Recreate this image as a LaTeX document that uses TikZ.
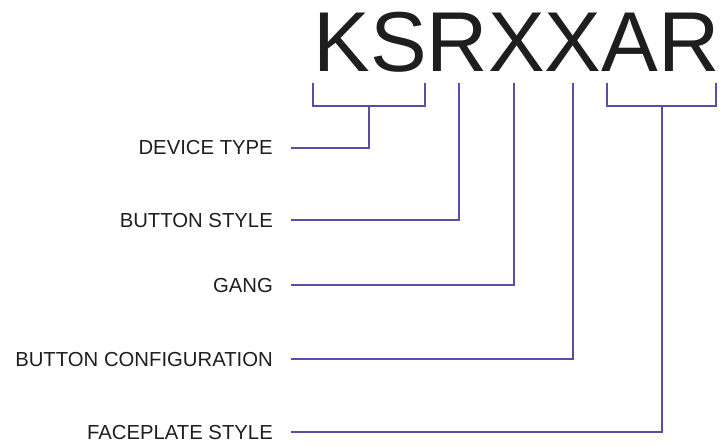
\documentclass[tikz,border=0pt]{standalone}
\usepackage{fontspec}
\setmainfont{Liberation Sans}
\definecolor{conncol}{HTML}{5E4BA6}
\definecolor{txtcol}{HTML}{1E1E1E}
\begin{document}
\begin{tikzpicture}[x=1pt,y=1pt,
  conn/.style={draw=conncol,line width=1.6pt},
  lbl/.style={anchor=base east,inner sep=0pt,text=txtcol,font=\fontsize{20.3}{23}\selectfont},
  code/.style={anchor=base,inner sep=0pt,text=txtcol,font=\fontsize{85}{90}\selectfont}]
\useasboundingbox (0,0) rectangle (720,445);
\node[code] (code) at (516.5,373) {KSRXXAR};
% labels
\node[lbl] (l1) at (273,290.5) {DEVICE TYPE};
\node[lbl] (l2) at (273,218) {BUTTON STYLE};
\node[lbl] (l3) at (273,153) {GANG};
\node[lbl] (l4) at (273,79) {BUTTON CONFIGURATION};
\node[lbl] (l5) at (273,6) {FACEPLATE STYLE};
% line starts
\coordinate (s1) at (291,297);
\coordinate (s2) at (291,225);
\coordinate (s3) at (291,160);
\coordinate (s4) at (291,86);
\coordinate (s5) at (291,13);
% bracket / tick tops
\coordinate (b1) at (369,339);
\coordinate (t2) at (459,362);
\coordinate (t3) at (514,362);
\coordinate (t4) at (573,362);
\coordinate (b5) at (662,339);
% brackets
\draw[conn] (313,362) |- (425,339) -- (425,362);
\draw[conn] (607,362) |- (716,339) -- (716,362);
% connectors
\draw[conn] (s1) -| (b1);
\draw[conn] (s2) -| (t2);
\draw[conn] (s3) -| (t3);
\draw[conn] (s4) -| (t4);
\draw[conn] (s5) -| (b5);
\end{tikzpicture}
\end{document}
